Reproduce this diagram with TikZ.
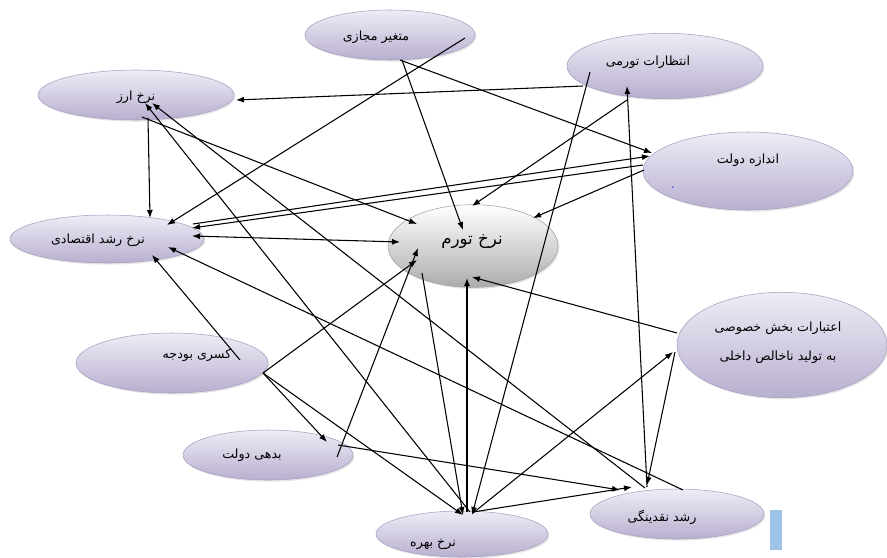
\documentclass[tikz,border=0pt]{standalone}
\usepackage{fontspec}
\newfontfamily\arabicfont[Script=Arabic]{DejaVu Sans}
\TeXXeTstate=1
\usetikzlibrary{calc,arrows.meta,shapes.geometric,shadows}
\definecolor{lavtop}{HTML}{EFECF6}
\definecolor{lavbot}{HTML}{B8AFCF}
\definecolor{lavline}{HTML}{A69EC0}
\definecolor{barblue}{HTML}{9DC3E6}
\newcommand{\fatext}[1]{\beginR #1\endR}

\begin{document}
\begin{tikzpicture}[x=0.75pt, y=-0.75pt,
	factor/.style={ellipse, draw=lavline, line width=0.4pt, top color=lavtop, bottom color=lavbot, inner sep=0,
		drop shadow={opacity=0.2, shadow xshift=1pt, shadow yshift=-1.2pt}},
	core/.style={factor, draw=gray!75, top color=white, bottom color=gray!65},
	flabel/.style={font=\arabicfont\fontsize{9.5}{22}\selectfont, inner sep=0, align=center},
	effect/.style={->, line width=0.8pt},
	>={Latex[length=6pt, width=4.5pt]}]
		\path[use as bounding box, fill=white] (0,0) rectangle (887,557);
		% factors
		\node [factor, minimum width=127.5pt, minimum height=37.5pt] (dum) at (390,35) {};
		\node [factor, minimum width=147pt, minimum height=37.5pt] (exr) at (136,95) {};
		\node [factor, minimum width=145.5pt, minimum height=36pt] (grw) at (107,239) {};
		\node [core, minimum width=127.5pt, minimum height=62pt] (inf) at (473,246) {};
		\node [factor, minimum width=147pt, minimum height=49pt] (exp) at (665,66) {};
		\node [factor, minimum width=157.5pt, minimum height=58.5pt] (gov) at (748,171) {};
		\node [factor, minimum width=157.5pt, minimum height=79pt] (crd) at (782,345) {};
		\node [factor, minimum width=144pt, minimum height=45pt] (dfc) at (172,363) {};
		\node [factor, minimum width=127.5pt, minimum height=37.5pt] (dbt) at (268,455) {};
		\node [factor, minimum width=129pt, minimum height=34.5pt] (int) at (462,534) {};
		\node [factor, minimum width=130.5pt, minimum height=37.5pt] (liq) at (677,514) {};
		% names
		\node [flabel] (dum-t) at ($(dum)+(-14,2)$) {\fatext{متغیر مجازی}};
		\node [flabel] (exr-t) at ($(exr)+(0,2)$) {\fatext{نرخ ارز}};
		\node [flabel] (grw-t) at ($(grw)+(-9,1)$) {\fatext{نرخ رشد اقتصادی}};
		\node [flabel, font=\arabicfont\fontsize{12.5}{14}\selectfont] (inf-t) at ($(inf)+(-1,-4)$) {\fatext{نرخ تورم}};
		\node [flabel] (exp-t) at ($(exp)+(-17,-4)$) {\fatext{انتظارات تورمی}};
		\node [flabel] (gov-t) at ($(gov)+(0,-11)$) {\fatext{اندازه دولت}};
		\node [flabel, text=lavline!50!blue] (gov-d) at ($(gov)+(-75,17)$) {.};
		\node [flabel] (crd-t) at ($(crd)+(-4,-2)$) {\fatext{اعتبارات بخش خصوصی}\\\fatext{به تولید ناخالص داخلی}};
		\node [flabel] (dfc-t) at ($(dfc)+(25,-8)$) {\fatext{کسری بودجه}};
		\node [flabel] (dbt-t) at ($(dbt)+(-16,0)$) {\fatext{بدهی دولت}};
		\node [flabel] (int-t) at ($(int)+(-29,10)$) {\fatext{نرخ بهره}};
		\node [flabel] (liq-t) at ($(liq)+(-15,3)$) {\fatext{رشد نقدینگی}};
		\fill [barblue] (770,510) rectangle (782,550);
		% effects
		\draw[effect] ($(dum)+(75,3)$) -- ($(grw)+(60,-14)$);
		\draw[effect] ($(dum)+(12,25)$) -- ($(inf)+(-10,-16)$);
		\draw[effect] ($(dum)+(10,25)$) -- ($(gov)+(-96,-18)$);
		\draw[effect] ($(exp)+(-82,20)$) -- ($(exr)+(100,5)$);
		\draw[effect] ($(exp)+(-75,6)$) -- ($(int)+(10,-19)$);
		\draw[effect] ($(exp)+(-38,34)$) -- ($(inf)+(-1,-40)$);
		\draw[effect] ($(liq)+(-30,-27)$) -- ($(exp)+(-38,20)$);
		\draw[effect] ($(crd)+(-107,7)$) -- ($(liq)+(-30,-29)$);
		\draw[effect] ($(int)+(11,-21)$) -- ($(crd)+(-109,7)$);
		\draw[effect] ($(crd)+(-105,-12)$) -- ($(inf)+(-1,31)$);
		\draw[effect] ($(int)+(5,-22)$) -- ($(inf)+(-6,32)$);
		\draw[effect] ($(inf)+(-51,27)$) -- ($(int)+(1,-19)$);
		\draw[effect] ($(exr)+(6,22)$) -- ($(inf)+(-56,-22)$);
		\draw[effect] ($(exr)+(12,23)$) -- ($(grw)+(43,-21)$);
		\draw[effect, <->] ($(grw)+(85,-3)$) -- ($(inf)+(-73,-4)$);
		\draw[effect] ($(grw)+(86,-15)$) -- ($(gov)+(-98,-15)$);
		\draw[effect] ($(gov)+(-105,-6)$) -- ($(grw)+(85,-11)$);
		\draw[effect] ($(gov)+(-104,-1)$) -- ($(inf)+(60,-28)$);
		\draw[effect] ($(dfc)+(68,-3)$) -- ($(grw)+(45,16)$);
		\draw[effect] ($(dfc)+(91,10)$) -- ($(inf)+(-56,14)$);
		\draw[effect] ($(dfc)+(91,10)$) -- ($(dbt)+(59,-13)$);
		\draw[effect] ($(dfc)+(91,10)$) -- ($(int)+(1,-19)$);
		\draw[effect] ($(dbt)+(69,2)$) -- ($(inf)+(-55,2)$);
		\draw[effect] ($(dbt)+(70,-10)$) -- ($(liq)+(-57,-24)$);
		\draw[effect] ($(int)+(11,-22)$) -- ($(liq)+(-45,-27)$);
		\draw[effect] ($(int)+(8,-22)$) -- ($(exr)+(9,8)$);
		\draw[effect] ($(liq)+(-32,-26)$) -- ($(exr)+(16,8)$);
		\draw[effect] ($(liq)+(6,-24)$) -- ($(grw)+(61,8)$);
	\end{tikzpicture}
\end{document}
